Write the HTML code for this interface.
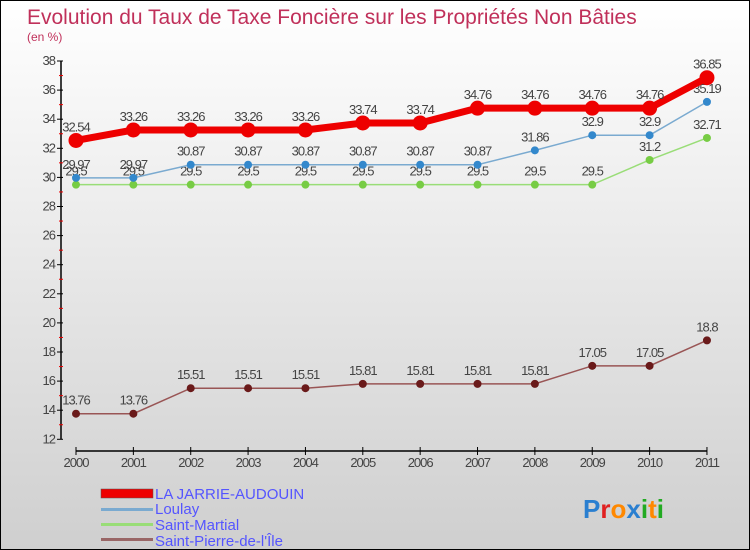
<!DOCTYPE html>
<html><head><meta charset="utf-8"><style>
html,body{margin:0;padding:0}
body{width:750px;height:550px;overflow:hidden;font-family:"Liberation Sans",sans-serif}
#wrap{position:relative;width:748px;height:548px;border:1px solid #000;background:linear-gradient(#ffffff,#cfcfcf)}
</style></head><body>
<div id="wrap">
<svg id="chart" width="748" height="548" style="position:absolute;left:0;top:0">
<text x="26" y="23" font-size="21" fill="#c0305a">Evolution du Taux de Taxe Foncière sur les Propriétés Non Bâties</text>
<text x="26" y="40" font-size="12" fill="#c0305a">(en %)</text>
<g id="axes"></g><g id="series"></g>
<g>
<rect x="100" y="488" width="52" height="9" fill="#e00" stroke="#555" stroke-width="0.5"/>
<text x="154" y="498" font-size="15" fill="#5555ff">LA JARRIE-AUDOUIN</text>
<rect x="100" y="507" width="52" height="3" fill="#7aaad0"/>
<text x="154" y="513" font-size="15" fill="#5555ff">Loulay</text>
<rect x="100" y="522" width="52" height="3" fill="#99dd77"/>
<text x="154" y="529" font-size="15" fill="#5555ff">Saint-Martial</text>
<rect x="100" y="537" width="52" height="3" fill="#996666"/>
<text x="154" y="545" font-size="15" fill="#5555ff">Saint-Pierre-de-l'Île</text>
</g>
<text x="582" y="517" font-size="26" font-weight="bold"><tspan fill="#2a7fd0">P</tspan><tspan fill="#e02020">r</tspan><tspan fill="#ff8800">o</tspan><tspan fill="#2a7fd0">x</tspan><tspan fill="#22aa22">i</tspan><tspan fill="#ff8800">t</tspan><tspan fill="#22aa22">i</tspan></text>
</svg>
</div>
<script>
const years=["2000","2001","2002","2003","2004","2005","2006","2007","2008","2009","2010","2011"];
const yTicks=[12,14,16,18,20,22,24,26,28,30,32,34,36,38];
const jarrie=[32.54,33.26,33.26,33.26,33.26,33.74,33.74,34.76,34.76,34.76,34.76,36.85];
const loulay=[29.97,29.97,30.87,30.87,30.87,30.87,30.87,30.87,31.86,32.9,32.9,35.19];
const martial=[29.5,29.5,29.5,29.5,29.5,29.5,29.5,29.5,29.5,29.5,31.2,32.71];
const pierre=[13.76,13.76,15.51,15.51,15.51,15.81,15.81,15.81,15.81,17.05,17.05,18.8];
const NS="http://www.w3.org/2000/svg";
const X=i=>75+i*57.36;
const Y=v=>60+(38-v)*14.55;
function mk(t,a,p){const e=document.createElementNS(NS,t);for(const k in a)e.setAttribute(k,a[k]);p.appendChild(e);return e;}
const ax=document.getElementById('axes'),sg=document.getElementById('series');
let yl=mk('line',{x1:60,y1:Y(38),x2:60,y2:Y(12),stroke:'#000','stroke-width':1.5},ax);


yTicks.forEach(v=>{
 mk('line',{x1:56,y1:Y(v),x2:62,y2:Y(v),stroke:'#000'},ax);
 mk('line',{x1:58,y1:Y(v+1),x2:62,y2:Y(v+1),stroke:v<38?'#e00':'none'},ax);
 const t=mk('text',{x:54,y:Y(v)+4,'font-size':13,fill:'#444','text-anchor':'end','letter-spacing':-1},ax);
 t.textContent=v;
 
 
});
let xl=mk('line',{x1:X(0),y1:450,x2:X(11),y2:450,stroke:'#000','stroke-width':1.5},ax);


years.forEach((y,i)=>{
 mk('line',{x1:X(i),y1:446,x2:X(i),y2:454,stroke:'#000'},ax);
 const t=mk('text',{x:X(i),y:466,'font-size':13,fill:'#444','text-anchor':'middle','letter-spacing':-1},ax);
 t.textContent=y;
 
 
});
function series(d,col,dot,w,r,name){
 const g=mk('g',{},sg);
 
 
 mk('polyline',{points:d.map((v,i)=>X(i)+','+Y(v)).join(' '),fill:'none',stroke:col,'stroke-width':w},g);
 d.forEach((v,i)=>{
  const c=mk('circle',{cx:X(i),cy:Y(v),r:r,fill:dot},g);
  
  
  const t=mk('text',{x:X(i),y:Y(v)-9,'font-size':13,fill:'#444','text-anchor':'middle','letter-spacing':-1},g);
  t.textContent=String(v);
 });
}
series(pierre,'#995555','#6a1a1a',1.5,4,'saint-pierre');
series(martial,'#99dd77','#77cc44',1.5,4,'saint-martial');
series(loulay,'#7aaad0','#3388cc',1.5,4,'loulay');
series(jarrie,'#ee0000','#ee0000',7,7.5,'la-jarrie');
</script>
</body></html>
